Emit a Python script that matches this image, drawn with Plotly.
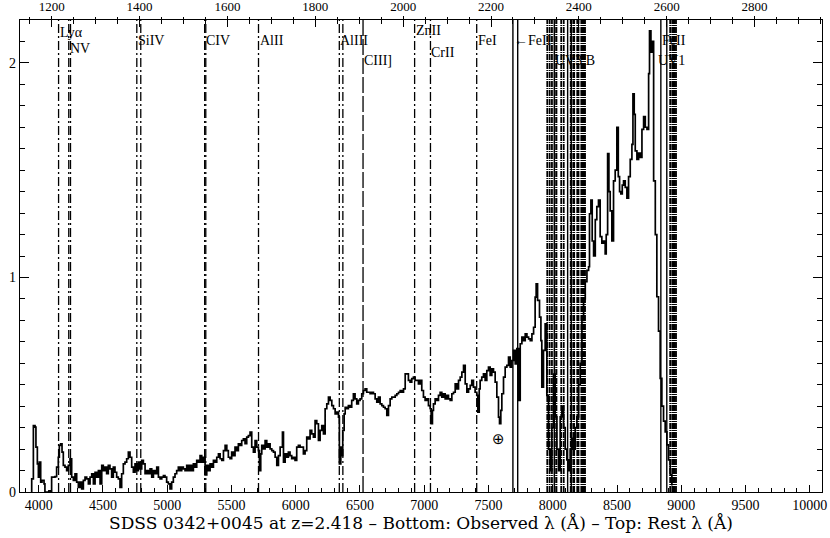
import plotly.graph_objects as go

Z = 2.418

wave = [3940, 3946, 3959, 3972, 3979, 3990, 3998, 4005, 4016, 4026, 4042, 4049, 4062, 4080, 4095,
        4101, 4114, 4127, 4140, 4153, 4161, 4171, 4182, 4192, 4205, 4218, 4231, 4244, 4257, 4270,
        4283, 4296, 4309, 4322, 4335, 4348, 4361, 4374, 4387, 4400, 4413, 4426, 4439, 4452, 4465,
        4478, 4491, 4503, 4516, 4529, 4542, 4555, 4568, 4581, 4594, 4607, 4620, 4633, 4646, 4659,
        4672, 4685, 4698, 4711, 4724, 4737, 4750, 4763, 4776, 4789, 4802, 4815, 4828, 4841, 4854,
        4867, 4880, 4893, 4906, 4919, 4932, 4945, 4958, 4971, 4983, 4996, 5009, 5022, 5035, 5048,
        5061, 5074, 5087, 5100, 5113, 5126, 5139, 5152, 5165, 5178, 5191, 5204, 5217, 5230, 5243,
        5256, 5269, 5282, 5295, 5308, 5321, 5334, 5347, 5360, 5373, 5386, 5399, 5412, 5425, 5438,
        5451, 5464, 5476, 5489, 5502, 5515, 5528, 5541, 5554, 5567, 5580, 5593, 5606, 5619, 5632,
        5645, 5658, 5671, 5684, 5697, 5710, 5718, 5728, 5736, 5749, 5762, 5775, 5788, 5801, 5814,
        5827, 5840, 5853, 5866, 5879,
        5897, 5905, 5918, 5930, 5943, 5956, 5969, 5982, 5995, 6008, 6021, 6034, 6047, 6060, 6073,
        6086, 6099, 6112, 6125, 6138, 6151, 6164, 6177, 6190, 6203, 6216, 6229, 6242, 6255, 6268,
        6281, 6294, 6307, 6320, 6333, 6340, 6351, 6359, 6366, 6377, 6385, 6398, 6410, 6423, 6436,
        6449, 6462, 6475, 6488, 6501, 6514, 6527, 6540, 6553, 6566, 6579, 6592, 6605, 6618, 6631,
        6644, 6657, 6670, 6683, 6696, 6709, 6722, 6735, 6748, 6761, 6774, 6787, 6800, 6813, 6826,
        6839, 6852, 6865, 6877, 6890, 6903, 6916, 6929, 6942, 6955, 6968, 6981, 6994, 7007, 7020,
        7033, 7046, 7054, 7064, 7072, 7085, 7098, 7111, 7124, 7137, 7150, 7163, 7176, 7189, 7202,
        7215, 7228, 7241, 7254, 7267, 7280, 7293, 7306, 7319, 7332, 7345, 7358, 7370, 7383, 7396,
        7409, 7417, 7428, 7435, 7448, 7461, 7474, 7487, 7500, 7513, 7526, 7539, 7552, 7565, 7578,
        7586, 7596, 7604, 7617, 7630, 7643, 7656, 7669, 7682, 7695, 7708, 7721, 7734, 7747, 7760,
        7773, 7786, 7799, 7812, 7825,
        7838, 7851, 7863, 7871, 7882, 7897, 7908, 7915, 7928, 7941, 7954, 7967, 7980, 7993, 8006,
        8019, 8032, 8045, 8058, 8071, 8084, 8097, 8110, 8123, 8136, 8149, 8162, 8175, 8188, 8201,
        8214, 8227, 8240, 8253, 8266, 8279, 8286, 8297, 8307, 8318, 8331, 8343, 8356, 8369, 8382,
        8395, 8408, 8416, 8427, 8437, 8447, 8460, 8473, 8486, 8499, 8510, 8520, 8530, 8541, 8551,
        8564, 8577, 8590, 8603, 8616, 8624, 8634, 8642, 8655, 8668, 8681, 8694, 8707, 8720, 8733,
        8746, 8753, 8764, 8774, 8785, 8798, 8810, 8823, 8836, 8849, 8862, 8875, 8888, 8901, 8914,
        8927]

flux = [0.0, 0.061, 0.310, 0.302, 0.209, 0.131, 0.069, 0.139, 0.046, 0.054, 0.038, 0.0, 0.0, 0.005, 0.0,
        0.069, 0.069, 0.072, 0.116, 0.162, 0.217, 0.225, 0.186, 0.124, 0.116, 0.100, 0.124, 0.155, 0.069, 0.054,
        0.085, 0.046, 0.022, 0.046, 0.015, 0.054, 0.069, 0.061, 0.038, 0.069, 0.085, 0.038, 0.092, 0.069, 0.100,
        0.038, 0.124, 0.100, 0.116, 0.085, 0.124, 0.108, 0.069, 0.116, 0.092, 0.069, 0.061, 0.022, 0.085, 0.131,
        0.139, 0.155, 0.186, 0.162, 0.116, 0.092, 0.131, 0.100, 0.139, 0.108, 0.147, 0.131, 0.085, 0.100, 0.085,
        0.108, 0.069, 0.100, 0.085, 0.116, 0.069, 0.061, 0.069, 0.077, 0.069, 0.046, 0.038, 0.015, 0.046, 0.069,
        0.085, 0.100, 0.116, 0.100, 0.116, 0.108, 0.100, 0.124, 0.100, 0.124, 0.100, 0.131, 0.116, 0.147, 0.139,
        0.170, 0.139, 0.162, 0.080, 0.124, 0.100, 0.131, 0.116, 0.147, 0.139, 0.162, 0.178, 0.155, 0.147, 0.193,
        0.217, 0.193, 0.162, 0.155, 0.186, 0.170, 0.209, 0.193, 0.225, 0.217, 0.240, 0.248, 0.225, 0.256, 0.263,
        0.279, 0.209, 0.186, 0.240, 0.209, 0.193, 0.100, 0.178, 0.217, 0.201, 0.240, 0.209, 0.225, 0.201, 0.193,
        0.186, 0.162, 0.124, 0.170, 0.209,
        0.279, 0.139, 0.178, 0.162, 0.186, 0.170, 0.155, 0.162, 0.147, 0.209, 0.217, 0.209, 0.209, 0.178, 0.193,
        0.256, 0.248, 0.287, 0.271, 0.256, 0.333, 0.318, 0.240, 0.287, 0.310, 0.271, 0.388, 0.411, 0.442, 0.427,
        0.403, 0.388, 0.364, 0.372, 0.349, 0.131, 0.209, 0.170, 0.287, 0.364, 0.395, 0.388, 0.403, 0.395, 0.427,
        0.458, 0.434, 0.411, 0.427, 0.434, 0.458, 0.473, 0.481, 0.465, 0.465, 0.458, 0.465, 0.458, 0.434, 0.419,
        0.442, 0.411, 0.403, 0.395, 0.388, 0.357, 0.403, 0.434, 0.442, 0.442, 0.450, 0.458, 0.465, 0.473, 0.465,
        0.481, 0.551, 0.551, 0.520, 0.512, 0.528, 0.535, 0.520, 0.520, 0.504, 0.520, 0.473, 0.442, 0.427, 0.434,
        0.403, 0.388, 0.318, 0.380, 0.411, 0.434, 0.427, 0.450, 0.465, 0.442, 0.458, 0.434, 0.450, 0.434, 0.427,
        0.458, 0.465, 0.504, 0.481, 0.520, 0.535, 0.559, 0.590, 0.504, 0.465, 0.481, 0.497, 0.520, 0.489, 0.465,
        0.450, 0.372, 0.481, 0.520, 0.535, 0.551, 0.520, 0.566, 0.582, 0.543, 0.574, 0.559, 0.512, 0.442, 0.349,
        0.318, 0.380, 0.458, 0.535, 0.582, 0.590, 0.629, 0.582, 0.613, 0.660, 0.597, 0.668, 0.427, 0.691, 0.722,
        0.706, 0.737, 0.722, 0.714, 0.706,
        0.737, 0.768, 0.908, 0.970, 0.893, 0.815, 0.706, 0.489, 0.660, 0.784, 0.45, 0.20, 0.10, 0.30, 0.55,
        0.35, 0.20, 0.10, 0.35, 0.40, 0.30, 0.20, 0.15, 0.10, 0.20, 0.25, 0.20, 0.30, 0.35, 0.50,
        0.60, 0.80, 0.90, 0.98, 1.033, 1.05, 1.297, 1.36, 1.17, 1.10, 1.27, 1.33, 1.36, 1.19, 1.16,
        1.17, 1.11, 1.20, 1.577, 1.40, 1.31, 1.17, 1.45, 1.50, 1.70, 1.47, 1.40, 1.39, 1.43, 1.45,
        1.42, 1.37, 1.47, 1.55, 1.62, 1.856, 1.76, 1.59, 1.55, 1.58, 1.56, 1.69, 1.75, 1.70, 1.69,
        1.95, 2.15, 2.05, 2.10, 1.45, 1.20, 0.91, 0.75, 0.53, 0.40, 0.33, 0.28, 0.22, 0.15, 0.08,
        0.03]

# rest-frame wavelengths of marked lines
dashdot_rest = [1215.67, 1238.82, 1242.80, 1393.76, 1402.77, 1548.20, 1550.77, 1670.79,
                1854.72, 1862.79, 2026.14, 2062.23, 2167.45]
longdash_rest = [1908.73]
solid_rest = [2249.88, 2260.78, 2344.21, 2374.46, 2382.77, 2586.65, 2600.17]
excited_rest = [2328.11, 2333.52, 2338.73, 2345.00, 2349.02, 2359.83, 2365.55, 2381.49, 2383.79,
                2388.63, 2389.36, 2396.36, 2399.24, 2405.62, 2407.39, 2411.25, 2411.80, 2414.05,
                2607.87, 2612.65, 2614.61, 2618.40, 2621.19]

label_text = ["Lyα", "NV", "SiIV", "CIV", "AlII", "AlIII", "CIII]", "ZnII", "CrII", "FeI", "←FeII",
              "UV3,B", "FeII", "UV1"]
label_rest = [1215.67, 1238.82, 1393.76, 1548.20, 1670.79, 1854.72, 1908.73, 2026.14, 2062.23, 2167.45,
              2249.88, 2344.21, 2586.65, 2579.0]
label_y = [2.142, 2.068, 2.105, 2.105, 2.105, 2.105, 2.012, 2.151, 2.049, 2.105, 2.105,
           2.012, 2.105, 2.012]

X_RANGE = [3855, 10095]
Y_RANGE = [0, 2.2]

fig = go.Figure()

fig.add_trace(go.Scatter(x=wave, y=flux, mode="lines", line=dict(color="black", width=1.7, shape="hv"),
                         hoverinfo="skip", showlegend=False))

def vline(rest, dash, width):
    w = rest * (1 + Z)
    fig.add_trace(go.Scatter(x=[w, w], y=Y_RANGE, mode="lines",
                             line=dict(color="black", width=width, dash=dash),
                             hoverinfo="skip", showlegend=False))

for r in dashdot_rest:
    vline(r, "9px,3px,2px,3px", 1.3)
for r in longdash_rest:
    vline(r, "16px,3px", 1.3)
for r in solid_rest:
    vline(r, "solid", 1.4)
for r in excited_rest:
    vline(r, "6px,1px,1px,1px", 1.8)

tick_font = dict(family="Liberation Serif", size=14, color="black")
top_font = dict(family="Liberation Serif", size=13, color="black")
lab_font = dict(family="Liberation Serif", size=14, color="black")

for t, r, yv in zip(label_text, label_rest, label_y):
    fig.add_annotation(x=r * (1 + Z), y=yv, xref="x", yref="y", text=t, showarrow=False,
                       xanchor="left", yanchor="middle", font=lab_font, xshift=-1)

fig.add_annotation(x=7581, y=0.248, xref="x", yref="y", text="⊕", showarrow=False,
                   font=dict(family="DejaVu Sans", size=15, color="black"))

top_range = [X_RANGE[0] / (1 + Z), X_RANGE[1] / (1 + Z)]

fig.update_layout(
    width=830, height=538,
    margin=dict(l=20, r=8, t=20, b=46, autoexpand=False),
    paper_bgcolor="white", plot_bgcolor="white",
    showlegend=False,
    xaxis=dict(range=X_RANGE, tick0=4000, dtick=500, tickformat="d", ticks="inside", ticklen=7,
               tickcolor="black", automargin=False,
               showline=True, linecolor="black", linewidth=1.3, showgrid=False, zeroline=False,
               tickfont=tick_font,
               minor=dict(dtick=100, ticks="inside", ticklen=4, tickcolor="black", showgrid=False),
               title=dict(text="SDSS 0342+0045 at z=2.418 – Bottom: Observed λ (Å) – Top: Rest λ (Å)",
                          font=dict(family="DejaVu Serif", size=17, color="black"), standoff=4)),
    xaxis2=dict(range=top_range, overlaying="x", side="top", tick0=1200, dtick=200, tickformat="d",
                ticks="outside", automargin=False,
                ticklen=3, tickcolor="black", showline=True, linecolor="black", linewidth=1.3,
                showgrid=False, zeroline=False, tickfont=top_font,
                minor=dict(dtick=50, ticks="outside", ticklen=2, tickcolor="black", showgrid=False)),
    xaxis3=dict(range=top_range, overlaying="x", side="top", tick0=1200, dtick=200, ticks="inside",
                ticklen=7, tickcolor="black", showline=False, showticklabels=False, automargin=False,
                showgrid=False, zeroline=False,
                minor=dict(dtick=50, ticks="inside", ticklen=4, tickcolor="black", showgrid=False)),
    yaxis=dict(range=Y_RANGE, dtick=1, ticks="inside", ticklen=9, tickcolor="black", mirror="ticks",
               showline=True, linecolor="black", linewidth=1.3, showgrid=False, zeroline=False,
               tickfont=tick_font, automargin=False,
               minor=dict(dtick=0.1, ticks="inside", ticklen=5, tickcolor="black", showgrid=False)),
)

# dummy traces to activate the top axes
fig.add_trace(go.Scatter(x=top_range, y=[None, None], xaxis="x2", mode="lines", showlegend=False,
                         hoverinfo="skip"))
fig.add_trace(go.Scatter(x=top_range, y=[None, None], xaxis="x3", mode="lines", showlegend=False,
                         hoverinfo="skip"))

fig.write_html("out.html", config={"displayModeBar": False, "staticPlot": True},
               post_script="document.body.style.margin='0';document.body.style.overflow='hidden';")
